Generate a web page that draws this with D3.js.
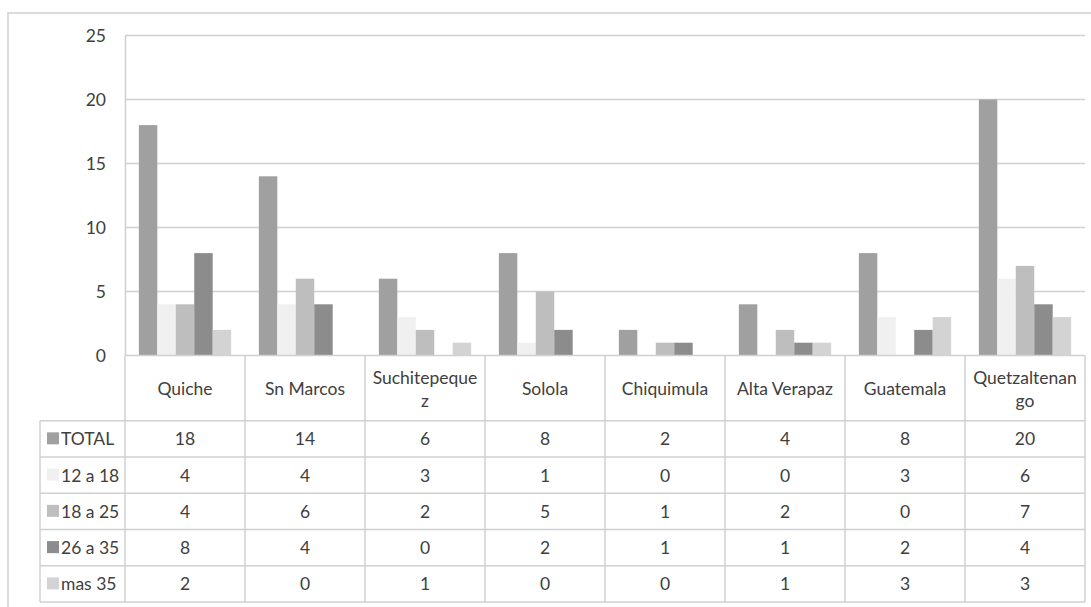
<!DOCTYPE html>
<html>
<head>
<meta charset="utf-8">
<script src="https://cdn.jsdelivr.net/npm/d3@7"></script>
<style>
  html, body { margin: 0; padding: 0; background: #fff; }
  svg { display: block; font-family: Lato, "Open Sans", sans-serif; }
</style>
</head>
<body>
<svg id="chart" width="1091" height="607"></svg>
<script>
// Departments shown along the category axis
const categories = ["Quiche", "Sn Marcos", "Suchitepequez", "Solola", "Chiquimula", "Alta Verapaz", "Guatemala", "Quetzaltenango"];

// Age-group series names
const seriesNames = ["TOTAL", "12 a 18", "18 a 25", "26 a 35", "mas 35"];

// Counts per department for each series
const total   = [18, 14, 6, 8, 2, 4, 8, 20];
const age12_18 = [4, 4, 3, 1, 0, 0, 3, 6];
const age18_25 = [4, 6, 2, 5, 1, 2, 0, 7];
const age26_35 = [8, 4, 0, 2, 1, 1, 2, 4];
const mas35   = [2, 0, 1, 0, 0, 1, 3, 3];

const yTicks = [0, 5, 10, 15, 20, 25];

const seriesValues = [total, age12_18, age18_25, age26_35, mas35];
const seriesColors = ["#a0a0a0", "#f0f0f0", "#bebebe", "#8c8c8c", "#d3d3d3"];

const svg = d3.select("#chart");
const textColor = "#404040";
const lineColor = "#d0d0d0";
const fontSize = 17.5;

// Layout
const plotLeft = 125, plotRight = 1085, plotTop = 35.5, plotBottom = 355.5;
const headerBottom = 420.7, tableBottom = 602, legendLeft = 40;

// Outer chart frame
svg.append("path")
  .attr("d", `M8,607 V13 H1091`)
  .attr("fill", "none").attr("stroke", lineColor).attr("stroke-width", 1.5);

const x = d3.scaleBand().domain(categories).range([plotLeft, plotRight]).paddingInner(0).paddingOuter(0);
const y = d3.scaleLinear().domain([0, 25]).range([plotBottom, plotTop]);

// Inner band for the 5 bars: gap width 150% of a bar
const barW = x.bandwidth() / (seriesNames.length + 1.5);
const xs = d3.scaleBand().domain(seriesNames)
  .range([0, barW * seriesNames.length]).padding(0);
const groupOffset = (x.bandwidth() - barW * seriesNames.length) / 2;

// Gridlines
svg.append("g").selectAll("line")
  .data(yTicks.filter(t => t > 0))
  .join("line")
  .attr("x1", plotLeft).attr("x2", plotRight)
  .attr("y1", d => y(d)).attr("y2", d => y(d))
  .attr("stroke", lineColor).attr("stroke-width", 1.5);

// Y axis
const yAxis = svg.append("g")
  .attr("transform", `translate(${plotLeft},0)`)
  .call(d3.axisLeft(y).tickValues(yTicks).tickSize(0).tickPadding(19));
yAxis.select(".domain").attr("stroke", lineColor).attr("stroke-width", 1.5);
yAxis.selectAll("text")
  .attr("fill", textColor).attr("font-size", fontSize).attr("font-family", "Lato, sans-serif");

// Bars
seriesNames.forEach((name, si) => {
  svg.append("g").selectAll("rect")
    .data(categories.map((c, i) => ({ c, v: seriesValues[si][i] })))
    .join("rect")
    .attr("x", d => x(d.c) + groupOffset + xs(name))
    .attr("width", xs.bandwidth())
    .attr("y", d => y(d.v))
    .attr("height", d => y(0) - y(d.v))
    .attr("fill", seriesColors[si]);
});

// Data table
const rowH = (tableBottom - headerBottom) / seriesNames.length;
const rowY = i => headerBottom + i * rowH;
const grid = svg.append("g").attr("stroke", lineColor).attr("stroke-width", 1.5);

// horizontal rules
grid.append("line").attr("x1", plotLeft).attr("x2", plotRight).attr("y1", plotBottom).attr("y2", plotBottom);
for (let i = 0; i <= seriesNames.length; i++) {
  grid.append("line").attr("x1", legendLeft).attr("x2", plotRight).attr("y1", rowY(i)).attr("y2", rowY(i));
}
// vertical rules
grid.append("line").attr("x1", legendLeft).attr("x2", legendLeft).attr("y1", headerBottom).attr("y2", tableBottom);
categories.forEach(c => {
  grid.append("line").attr("x1", x(c)).attr("x2", x(c)).attr("y1", plotBottom).attr("y2", tableBottom);
});
grid.append("line").attr("x1", plotRight).attr("x2", plotRight).attr("y1", plotBottom).attr("y2", tableBottom);

// Category header labels, wrapped by character to fit a cell
const header = svg.append("g").attr("fill", textColor).attr("font-size", fontSize).attr("text-anchor", "middle");
const maxW = x.bandwidth() - 10;
categories.forEach(c => {
  const probe = header.append("text").attr("x", -1000).attr("y", -1000);
  const lines = [];
  let cur = "";
  for (const ch of c) {
    probe.text(cur + ch);
    if (probe.node().getComputedTextLength() > maxW && cur.length) {
      lines.push(cur); cur = ch;
    } else cur += ch;
  }
  lines.push(cur);
  probe.remove();
  const lh = 23;
  const cy = (plotBottom + headerBottom) / 2;
  const t = header.append("text")
    .attr("x", x(c) + x.bandwidth() / 2)
    .attr("dominant-baseline", "central");
  lines.forEach((ln, k) => {
    t.append("tspan")
      .attr("x", x(c) + x.bandwidth() / 2)
      .attr("y", cy + (k - (lines.length - 1) / 2) * lh)
      .text(ln);
  });
});

// Legend keys and values per row
seriesNames.forEach((name, si) => {
  const cy = rowY(si) + rowH / 2;
  svg.append("rect")
    .attr("x", 47).attr("y", cy - 6.5).attr("width", 12).attr("height", 12)
    .attr("fill", seriesColors[si]);
  svg.append("text")
    .attr("x", 61).attr("y", cy).attr("dominant-baseline", "central")
    .attr("fill", textColor).attr("font-size", fontSize)
    .text(name);
  svg.append("g").selectAll("text")
    .data(categories.map((c, i) => ({ c, v: seriesValues[si][i] })))
    .join("text")
    .attr("x", d => x(d.c) + x.bandwidth() / 2)
    .attr("y", cy)
    .attr("text-anchor", "middle").attr("dominant-baseline", "central")
    .attr("fill", textColor).attr("font-size", fontSize)
    .text(d => d.v);
});
</script>
</body>
</html>
